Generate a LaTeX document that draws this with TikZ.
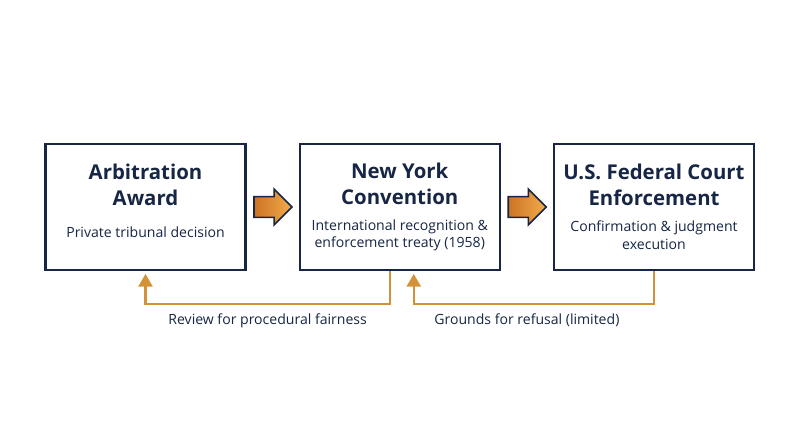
\documentclass[tikz,border=0pt]{standalone}
\usepackage{fontspec}
\setmainfont{Open Sans}
\usetikzlibrary{arrows.meta,positioning,shapes.arrows,calc}
\definecolor{navy}{RGB}{22,38,68}
\definecolor{amber}{RGB}{212,146,56}
\definecolor{rust}{RGB}{205,115,35}
\definecolor{peach}{RGB}{242,172,75}

\newcommand{\stagetitle}{\fontsize{14.5}{18.5}\selectfont\bfseries}
\newcommand{\stagetext}{\fontsize{10}{12.2}\selectfont\mdseries}
\tikzset{
  stage/.style={draw=navy,line width=1.6pt,fill=white,minimum width=5cm,minimum height=3.15cm,align=center,text=navy,inner sep=0pt,font=\stagetitle},
  flow/.style={single arrow,draw=navy,line width=1.1pt,left color=rust,right color=peach,minimum height=0.95cm,inner xsep=0pt,inner ysep=0.24cm,single arrow head extend=0.19cm,xshift=-0.12cm},
  back/.style={draw=amber,line width=1.6pt,-{Triangle[width=10pt,length=9pt]},shorten >=2pt},
  note/.style={text=navy,font=\fontsize{10}{12}\selectfont}
}

\begin{document}
\begin{tikzpicture}
        \useasboundingbox (0,0) rectangle (20,-11.175);
        \node[stage] (award) at (3.6375,-5.175) {Arbitration\\Award\\[4pt]\stagetext Private tribunal decision\\[-10pt]~};
        \node[stage,right=1.3cm of award] (nyc) {New York\\Convention\\[0pt]\stagetext International recognition \&\\[-6pt]\stagetext enforcement treaty (1958)};
        \node[stage,right=1.3cm of nyc] (enf) {U.S. Federal Court\\Enforcement\\[0pt]\stagetext Confirmation \& judgment\\[-6pt]\stagetext execution};
        \node[flow] (f1) at ($(award.east)!0.5!(nyc.west)$) {};
        \node[flow] (f2) at ($(nyc.east)!0.5!(enf.west)$) {};
        % feedback lines under the boxes
        \draw[back] ([xshift=-0.25cm]nyc.south) -- ++(0,-0.825) coordinate (c1) -| (award.south);
        \draw[back] (enf.south) -- ++(0,-0.825) coordinate (c2) -| ([xshift=0.35cm]nyc.south);
        \node[note,below=0.12cm] (n1) at ($(c1)!0.5!(c1-|award.south)$) {Review for procedural fairness};
        \node[note,below=0.12cm] (n2) at ($(c2)!0.5!(c2-|nyc.south)$) {Grounds for refusal (limited)};
      \end{tikzpicture}
\end{document}
